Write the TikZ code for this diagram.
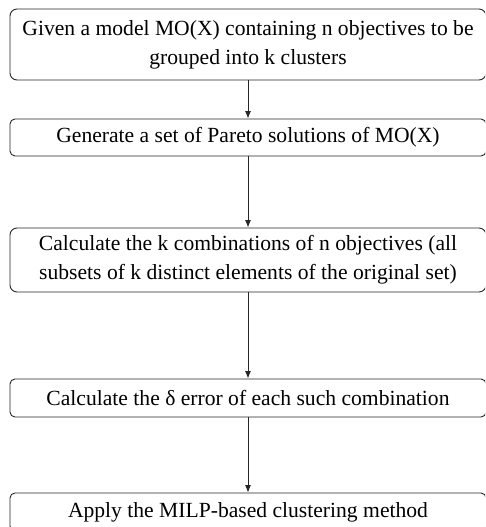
\documentclass[tikz,border=0pt]{standalone}
\usepackage{fontspec}
\setmainfont{Liberation Serif}
\usetikzlibrary{arrows.meta}
\begin{document}
\begin{tikzpicture}[x=1pt,y=1pt,
  flowbox/.style={draw=black!85, line width=0.9pt, rounded corners=7pt, minimum width=476pt,
    text width=470pt, align=flush center, inner sep=0pt,
    font=\fontsize{21.6}{29}\selectfont},
  flowarrow/.style={draw=black!85, line width=0.9pt, -{Latex[length=7.5pt,width=6pt]}}]
\useasboundingbox (0,0) rectangle (485,-527);
\clip (0,0) rectangle (485,-527);
\node[flowbox, minimum height=71pt] (b1) at (248,-44.5) {Given a model MO(X) containing n objectives to be\\ grouped into k clusters};
\node[flowbox, minimum height=37pt, rounded corners=5pt] (b2) at (248,-137.5) {Generate a set of Pareto solutions of MO(X)};
\node[flowbox, minimum height=64pt] (b3) at (248,-260) {Calculate the k combinations of n objectives (all\\ subsets of k distinct elements of the original set)};
\node[flowbox, minimum height=38pt, rounded corners=5pt] (b4) at (248,-398) {Calculate the δ error of each such combination};
\node[flowbox, minimum height=38pt, rounded corners=5pt] (b5) at (248,-512) {Apply the MILP-based clustering method};
\draw[flowarrow] (b1.south) -- (b2.north);
\draw[flowarrow] (b2.south) -- (b3.north);
\draw[flowarrow] (b3.south) -- (b4.north);
\draw[flowarrow] (b4.south) -- (b5.north);
\end{tikzpicture}
\end{document}
